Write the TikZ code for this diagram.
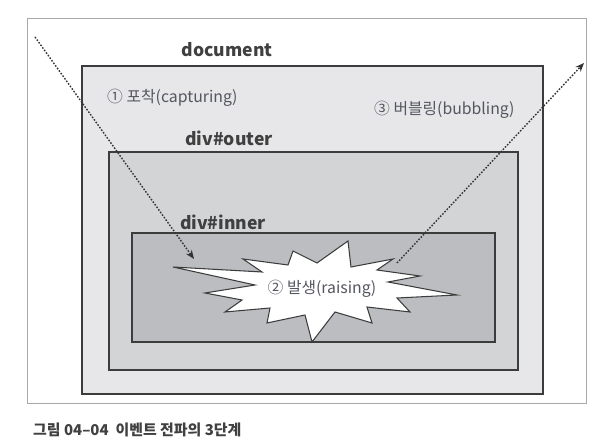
\documentclass[tikz,border=0pt]{standalone}
\usepackage{fontspec}
\setmainfont{Noto Sans CJK KR}
\usetikzlibrary{arrows, arrows.meta, calc, positioning}

\definecolor{docgray}{HTML}{E7E7E9}
\definecolor{outergray}{HTML}{D3D4D6}
\definecolor{innergray}{HTML}{BCBDC0}
\definecolor{framegray}{HTML}{A8A8A8}
\definecolor{linegray}{HTML}{3C3C3C}
\definecolor{textgray}{HTML}{555760}

\tikzset{
    box/.style={draw=linegray, line width=0.8pt},
    boxlabel/.style={font=\fontsize{10}{12}\selectfont\bfseries, text=black!75},
    phase/.style={font=\fontsize{9}{11}\selectfont, text=textgray},
    flow/.style={-{Stealth[length=5pt, width=4pt]}, dash pattern=on 0.9pt off 0.9pt,
        line width=0.8pt, draw=black!80},
}

\begin{document}
\begin{tikzpicture}[x=0.02cm, y=-0.02cm]

    \useasboundingbox (0,0) rectangle (600,445);

    \draw [draw=framegray, fill=white, line width=0.5pt] (27,18) rectangle (586,403);
    \draw [box, fill=docgray] (82,66) rectangle (543,394);
    \draw [box, fill=outergray] (109,152) rectangle (518,370);
    \draw [box, fill=innergray] (132,233) rectangle (495,342);

    \node [boxlabel] (document) at (227,50) {document};
    \node [boxlabel] (outer) at (229,138) {div\#outer};
    \node [boxlabel] (inner) at (223,222) {div\#inner};

    \node [phase, anchor=west] (capturing) at (101,98) {① 포착(capturing)};
    \node [phase, anchor=west] (bubbling) at (368,110) {③ 버블링(bubbling)};

    \draw [draw=linegray, fill=white, line width=0.6pt, line join=miter]
        (173,267) -- (262,272) -- (243,259) -- (288,265) -- (293,251)
        -- (317,263) -- (348,241) -- (351,267) -- (393,259) -- (377,270)
        -- (420,276) -- (388,282) -- (457,295) -- (397,298) -- (410,312)
        -- (367,307) -- (372,323) -- (335,312) -- (312,342) -- (305,315)
        -- (267,323) -- (270,308) -- (225,312) -- (242,300) -- (205,293)
        -- (255,285) -- cycle;
    \node [phase] (raising) at (322,289) {② 발생(raising)};

    \coordinate (capstart) at (35,37);
    \coordinate (capend) at (194,259);
    \coordinate (bubstart) at (397,263);
    \coordinate (bubend) at (584,63);

    \draw [flow] (capstart) -- (capend);
    \draw [flow] (bubstart) -- (bubend);

    \node [anchor=west, font=\fontsize{8.5}{10}\selectfont\bfseries, text=black!75] (caption)
        at (27,430) {그림 04–04\ \ 이벤트 전파의 3단계};

\end{tikzpicture}
\end{document}
